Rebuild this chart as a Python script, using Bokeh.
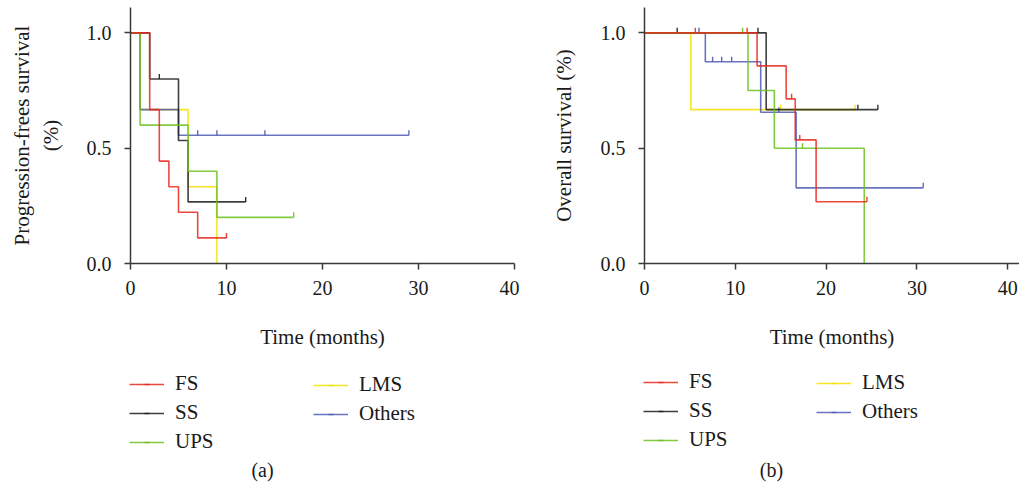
import numpy as np
from bokeh.plotting import figure
from bokeh.layouts import row, column
from bokeh.models import (Legend, LegendItem, Label, FixedTicker,
                          NumeralTickFormatter, Range1d, ColumnDataSource)
from bokeh.embed import file_html
from bokeh.resources import INLINE

# ---------------- data ----------------
groups = ["FS", "SS", "UPS", "LMS", "Others"]
x_ticks = [0, 10, 20, 30, 40]
y_ticks = [0.0, 0.5, 1.0]

# Progression-free survival: step times, survival after each step, censor times
pfs_fs_t = [0, 2, 3, 4, 5, 7, 10]
pfs_fs_s = [1.0, 0.667, 0.444, 0.333, 0.222, 0.111, 0.111]
pfs_fs_c = [10]
pfs_ss_t = [0, 2, 5, 6, 12]
pfs_ss_s = [1.0, 0.8, 0.533, 0.267, 0.267]
pfs_ss_c = [3, 12]
pfs_ups_t = [0, 1, 6, 9, 17]
pfs_ups_s = [1.0, 0.6, 0.4, 0.2, 0.2]
pfs_ups_c = [17]
pfs_lms_t = [0, 1, 6, 9]
pfs_lms_s = [1.0, 0.667, 0.333, 0.0]
pfs_lms_c = []
pfs_oth_t = [0, 1, 5, 29]
pfs_oth_s = [1.0, 0.667, 0.556, 0.556]
pfs_oth_c = [7, 9, 14, 29]

# Overall survival
os_fs_t = [0, 12.4, 15.6, 16.6, 18.9, 24.5]
os_fs_s = [1.0, 0.857, 0.714, 0.536, 0.268, 0.268]
os_fs_c = [5.6, 11.3, 16.2, 17.1, 24.5]
os_ss_t = [0, 13.4, 25.7]
os_ss_s = [1.0, 0.667, 0.667]
os_ss_c = [3.6, 12.5, 23.5, 25.7]
os_ups_t = [0, 11.4, 14.3, 24.2]
os_ups_s = [1.0, 0.75, 0.5, 0.0]
os_ups_c = [10.8, 17.4]
os_lms_t = [0, 5.1, 23.2]
os_lms_s = [1.0, 0.667, 0.667]
os_lms_c = [15.0, 23.2]
os_oth_t = [0, 6.7, 12.8, 16.7, 30.7]
os_oth_s = [1.0, 0.875, 0.656, 0.328, 0.328]
os_oth_c = [6.0, 7.5, 8.5, 9.6, 14.8, 30.7]

colors = {"FS": "#e8281e", "SS": "#1c1c1c", "UPS": "#6cc21e",
          "LMS": "#f4e200", "Others": "#4f5ab4"}

pfs = {"FS": (pfs_fs_t, pfs_fs_s, pfs_fs_c), "SS": (pfs_ss_t, pfs_ss_s, pfs_ss_c),
       "UPS": (pfs_ups_t, pfs_ups_s, pfs_ups_c), "LMS": (pfs_lms_t, pfs_lms_s, pfs_lms_c),
       "Others": (pfs_oth_t, pfs_oth_s, pfs_oth_c)}
osd = {"FS": (os_fs_t, os_fs_s, os_fs_c), "SS": (os_ss_t, os_ss_s, os_ss_c),
       "UPS": (os_ups_t, os_ups_s, os_ups_c), "LMS": (os_lms_t, os_lms_s, os_lms_c),
       "Others": (os_oth_t, os_oth_s, os_oth_c)}

draw_order = ["LMS", "Others", "SS", "UPS", "FS"]
SERIF = "Liberation Serif"
Y_END = 1.11
TOP_H = 363
TOTAL_H = 489


def make_plot(data, x_end, ylabel, border_left, border_right, frame_w, ylab_standoff):
    p = figure(frame_width=frame_w, frame_height=256,
               x_range=Range1d(0, x_end), y_range=Range1d(0, Y_END),
               min_border_left=border_left, min_border_right=border_right,
               min_border_top=7, min_border_bottom=TOP_H - 263,
               output_backend="svg", toolbar_location=None)
    p.outline_line_color = None
    p.xgrid.visible = False
    p.ygrid.visible = False

    px_per_unit = 256 / Y_END
    for g in draw_order:
        t, s, c = data[g]
        p.step(t, s, mode="after", line_color=colors[g],
               line_width=1.6, line_alpha=0.85)
        t_arr = np.array(t, dtype=float)
        s_arr = np.array(s, dtype=float)
        c_arr = np.array(c, dtype=float)
        if len(c_arr):
            idx = np.searchsorted(t_arr, c_arr, side="right") - 1
            cy = s_arr[idx] + 2.5 / px_per_unit
        else:
            cy = np.array([])
        src = ColumnDataSource(dict(x=c_arr, y=cy))
        p.scatter("x", "y", source=src, marker="dash", angle=np.pi / 2,
                  size=5, line_color=colors[g], line_width=1.4, line_alpha=0.9)

    for ax in (p.xaxis[0], p.yaxis[0]):
        ax.axis_line_color = "#3a3a3a"
        ax.axis_line_width = 1.5
        ax.major_tick_line_color = "#3a3a3a"
        ax.major_tick_line_width = 1.5
        ax.major_tick_in = 0
        ax.major_tick_out = 6
        ax.minor_tick_line_color = None
        ax.major_label_text_font = SERIF
        ax.major_label_text_font_size = "20px"
        ax.major_label_text_color = "#1a1a1a"
        ax.axis_label_text_font = SERIF
        ax.axis_label_text_font_size = "21px"
        ax.axis_label_text_font_style = "normal"
        ax.axis_label_text_color = "#1a1a1a"

    p.xaxis.ticker = FixedTicker(ticks=x_ticks)
    p.yaxis.ticker = FixedTicker(ticks=y_ticks)
    p.yaxis.formatter = NumeralTickFormatter(format="0.0")
    p.xaxis.axis_label = "Time (months)"
    p.yaxis.axis_label = ylabel
    p.xaxis.major_label_standoff = 11
    p.xaxis.axis_label_standoff = 27
    p.yaxis.major_label_standoff = 13
    p.yaxis.axis_label_standoff = ylab_standoff
    return p


def make_legend_fig(width, col1_loc, col2_loc, cap_text, cap_x):
    f = figure(width=width, height=TOTAL_H - TOP_H, min_border=0,
               x_range=Range1d(0, 1), y_range=Range1d(0, 1),
               x_axis_location=None, y_axis_location=None,
               output_backend="svg", toolbar_location=None)
    f.outline_line_color = None
    f.xgrid.visible = False
    f.ygrid.visible = False
    rends = {}
    for g in groups:
        # legend-only renderers: a single undefined (NaN) point draws nothing
        src = ColumnDataSource(dict(x=np.array([np.nan]), y=np.array([np.nan])))
        lr = f.line("x", "y", source=src, line_color=colors[g],
                    line_width=1.6, line_alpha=0.85)
        sr = f.scatter("x", "y", source=src, marker="dash", angle=np.pi / 2,
                       size=5, line_color=colors[g], line_width=1.4, line_alpha=0.9)
        rends[g] = [lr, sr]

    def legend(names, loc):
        items = [LegendItem(label=n, renderers=rends[n]) for n in names]
        lg = Legend(items=items, location=loc, orientation="vertical",
                    label_text_font=SERIF, label_text_font_size="21px",
                    label_text_color="#1a1a1a",
                    glyph_width=35, glyph_height=12, label_height=24,
                    label_standoff=11, spacing=4, padding=0, margin=0,
                    border_line_color=None, background_fill_alpha=0)
        f.add_layout(lg)

    legend(groups[:3], col1_loc)
    legend(groups[3:], col2_loc)
    f.add_layout(Label(x=cap_x, y=20, x_units="screen", y_units="screen",
                       text=cap_text, text_align="center", text_baseline="middle",
                       text_font=SERIF, text_font_size="20px",
                       text_color="#1a1a1a"))
    return f


p1 = make_plot(pfs, 40, "Progression-frees survival\n(%)", 130, 5, 384, 21)
p2 = make_plot(osd, 41.3, "Overall survival (%)", 125, 0, 375, 22)

l1 = make_legend_fig(519, (129, 35), (313, 63), "(a)", 262)
l2 = make_legend_fig(500, (124, 37), (297, 65), "(b)", 252)

layout = column(row(p1, p2), row(l1, l2))
open("out.html", "w").write(file_html(layout, INLINE))
